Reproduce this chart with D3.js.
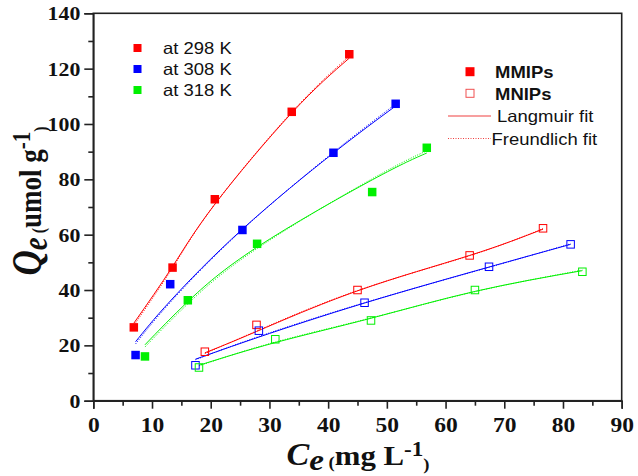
<!DOCTYPE html>
<html><head><meta charset="utf-8">
<script src="https://cdn.jsdelivr.net/npm/d3@7"></script>
<style>body{margin:0;background:#fff}svg{display:block}</style>
</head><body><svg id="c" width="638" height="476"></svg>
<script>
// ---- data ----
const tempLabels = ["at 298 K", "at 308 K", "at 318 K"];
const xTicks = [0, 10, 20, 30, 40, 50, 60, 70, 80, 90];
const yTicks = [0, 20, 40, 60, 80, 100, 120, 140];

const mmip298Ce = [6.9, 13.5, 20.7, 33.8, 43.6];
const mmip298Qe = [26.5, 48.1, 72.8, 104.4, 125.2];
const mmip308Ce = [7.2, 13.1, 25.4, 40.9, 51.5];
const mmip308Qe = [16.5, 42.1, 61.7, 89.6, 107.3];
const mmip318Ce = [8.8, 16.1, 27.9, 47.5, 56.8];
const mmip318Qe = [16.0, 36.3, 56.7, 75.4, 91.4];

const mnip298Ce = [19.0, 27.8, 45.0, 64.1, 76.6];
const mnip298Qe = [17.7, 27.4, 40.0, 52.5, 62.3];
const mnip308Ce = [17.4, 28.2, 46.2, 67.4, 81.3];
const mnip308Qe = [12.8, 25.3, 35.4, 48.4, 56.5];
const mnip318Ce = [18.0, 31.0, 47.3, 65.0, 83.3];
const mnip318Qe = [12.0, 22.2, 29.0, 40.0, 46.6];

// fitted curves, read at the same Ce values
const mmip298Lang = [28.0, 48.5, 71.0, 104.0, 123.8];
const mmip298Freu = [27.2, 48.0, 71.0, 104.3, 124.5];
const mmip308Lang = [21.3, 36.0, 62.0, 89.5, 106.5];
const mmip308Freu = [20.5, 35.5, 61.8, 89.8, 107.2];
const mmip318Lang = [20.2, 35.8, 55.5, 79.8, 89.5];
const mmip318Freu = [19.4, 35.0, 55.0, 80.2, 90.3];
const mnip298Lang = [17.3, 25.0, 39.7, 52.5, 62.0];
const mnip298Freu = [17.0, 25.2, 39.8, 52.4, 62.2];
const mnip308Lang = [15.0, 23.0, 35.3, 48.3, 56.5];
const mnip308Freu = [14.8, 23.2, 35.4, 48.2, 56.7];
const mnip318Lang = [12.8, 21.0, 29.8, 39.5, 47.0];
const mnip318Freu = [12.6, 21.2, 29.9, 39.4, 47.2];

// ---- style ----
const colors = ["#ff0000", "#0000ff", "#00f000"];
const SERIF = "'Liberation Serif','Times New Roman',serif";
const SANS = "'Liberation Sans',Arial,sans-serif";
const SX = 1.12; // horizontal stretch of the original picture

const svg = d3.select("#c");
const x = d3.scaleLinear().domain([0, 90]).range([93.3, 621.7]);
const y = d3.scaleLinear().domain([0, 140]).range([400.7, 13.3]);

const mmip = [
  {ce: mmip298Ce, qe: mmip298Qe, L: mmip298Lang, F: mmip298Freu},
  {ce: mmip308Ce, qe: mmip308Qe, L: mmip308Lang, F: mmip308Freu},
  {ce: mmip318Ce, qe: mmip318Qe, L: mmip318Lang, F: mmip318Freu}];
const mnip = [
  {ce: mnip298Ce, qe: mnip298Qe, L: mnip298Lang, F: mnip298Freu},
  {ce: mnip308Ce, qe: mnip308Qe, L: mnip308Lang, F: mnip308Freu},
  {ce: mnip318Ce, qe: mnip318Qe, L: mnip318Lang, F: mnip318Freu}];

// frame
svg.append("rect").attr("x", x(0)).attr("y", y(140))
  .attr("width", x(90) - x(0)).attr("height", y(0) - y(140))
  .attr("fill", "none").attr("stroke", "#222").attr("stroke-width", 1.6);

// axes
const xAxis = svg.append("g").attr("transform", `translate(0,${y(0)})`)
  .call(d3.axisBottom(x).tickValues(xTicks).tickSize(8).tickPadding(7).tickFormat(d3.format("d")));
svg.append("g").attr("transform", `translate(0,${y(0)})`)
  .call(d3.axisBottom(x).tickValues(d3.range(5, 90, 10)).tickSize(5).tickFormat(""))
  .call(g => g.select(".domain").remove());
const yAxis = svg.append("g").attr("transform", `translate(${x(0)},0)`)
  .call(d3.axisLeft(y).tickValues(yTicks).tickSize(9).tickPadding(4).tickFormat(d3.format("d")));
svg.append("g").attr("transform", `translate(${x(0)},0)`)
  .call(d3.axisLeft(y).tickValues(d3.range(10, 140, 20)).tickSize(5).tickFormat(""))
  .call(g => g.select(".domain").remove());
svg.selectAll(".domain").attr("stroke", "#222").attr("stroke-width", 1.6);
svg.selectAll(".tick line").attr("stroke", "#222").attr("stroke-width", 1.6);

xAxis.selectAll("text").attr("font-family", SERIF).attr("font-weight", "bold")
  .attr("font-size", 21).attr("fill", "#111")
  .attr("y", 0).attr("dy", 0)
  .attr("transform", `translate(0,31) scale(${SX},1)`);
yAxis.selectAll("text").attr("font-family", SERIF).attr("font-weight", "bold")
  .attr("font-size", 19.5).attr("fill", "#111")
  .attr("x", 0).attr("dy", "0.34em")
  .attr("transform", `translate(-13,0) scale(${SX},1)`);

// fit lines
const lineGen = d3.line().x(d => x(d[0])).y(d => y(d[1])).curve(d3.curveNatural);
function drawSet(sets) {
  sets.forEach((s, i) => {
    svg.append("path").datum(d3.zip(s.ce, s.L)).attr("d", lineGen)
      .attr("fill", "none").attr("stroke", colors[i]).attr("stroke-width", 1);
    svg.append("path").datum(d3.zip(s.ce, s.F)).attr("d", lineGen)
      .attr("fill", "none").attr("stroke", colors[i]).attr("stroke-width", 1)
      .attr("stroke-dasharray", "1,1.5");
  });
}
drawSet(mmip);
drawSet(mnip);

// markers
const MS = 8.5;
mmip.forEach((s, i) => {
  svg.append("g").selectAll("rect").data(d3.zip(s.ce, s.qe)).join("rect")
    .attr("x", d => x(d[0]) - MS / 2).attr("y", d => y(d[1]) - MS / 2)
    .attr("width", MS).attr("height", MS).attr("fill", colors[i]);
});
mnip.forEach((s, i) => {
  svg.append("g").selectAll("rect").data(d3.zip(s.ce, s.qe)).join("rect")
    .attr("x", d => x(d[0]) - MS / 2 + 0.5).attr("y", d => y(d[1]) - MS / 2 + 0.5)
    .attr("width", MS - 1).attr("height", MS - 1).attr("fill", "none")
    .attr("stroke", colors[i]).attr("stroke-width", 1);
});

// helper for stretched text
function stext(px, py, str, size, weight, anchor) {
  return svg.append("text").attr("transform", `translate(${px},${py}) scale(${SX},1)`)
    .attr("font-family", SANS).attr("font-size", size).attr("font-weight", weight || "normal")
    .attr("text-anchor", anchor || "start").attr("fill", "#111").text(str);
}

// legend 1 (temperatures)
const leg1Y = [48, 69, 90];
tempLabels.forEach((t, i) => {
  svg.append("rect").attr("x", 137.5 - 4).attr("y", leg1Y[i] - 4).attr("width", 8).attr("height", 8)
    .attr("fill", colors[i]);
  stext(163, leg1Y[i] + 6, t, 16.5);
});

// legend 2 (materials & fits)
svg.append("rect").attr("x", 470 - 4.5).attr("y", 71.7 - 4.5).attr("width", 9).attr("height", 9)
  .attr("fill", colors[0]);
svg.append("rect").attr("x", 470 - 4).attr("y", 93.3 - 4).attr("width", 8).attr("height", 8)
  .attr("fill", "none").attr("stroke", "#f05050").attr("stroke-width", 1);
stext(495, 78, "MMIPs", 16.5, "bold");
stext(495, 100, "MNIPs", 16.5, "bold");
svg.append("line").attr("x1", 448).attr("x2", 491).attr("y1", 116).attr("y2", 116)
  .attr("stroke", "#f04040").attr("stroke-width", 1.2);
stext(497, 122, "Langmuir fit", 16.5);
svg.append("line").attr("x1", 448).attr("x2", 491).attr("y1", 138.5).attr("y2", 138.5)
  .attr("stroke", "#f04040").attr("stroke-width", 1).attr("stroke-dasharray", "1,1.5");
stext(491.5, 144.5, "Freundlich fit", 16.5);

// x axis title
const xt = svg.append("text").attr("transform", `translate(358,465) scale(1.1,1)`)
  .attr("text-anchor", "middle").attr("font-family", SERIF).attr("font-weight", "bold").attr("fill", "#111");
xt.append("tspan").attr("font-style", "italic").attr("font-size", 31).text("C");
xt.append("tspan").attr("font-style", "italic").attr("font-size", 30).attr("dy", 5).text("e");
xt.append("tspan").attr("font-size", 17).attr("dy", -2).text(" (");
xt.append("tspan").attr("font-size", 28).attr("dy", -3).text("mg L");
xt.append("tspan").attr("font-size", 21).attr("dy", -9).text("-1");
xt.append("tspan").attr("font-size", 17).attr("dy", 14).text(")");

// y axis title
const yt = svg.append("text").attr("transform", `translate(41,201) scale(1.2,1) rotate(-90)`)
  .attr("text-anchor", "middle").attr("font-family", SERIF).attr("font-weight", "bold").attr("fill", "#111");
yt.append("tspan").attr("font-style", "italic").attr("font-size", 35).text("Q");
yt.append("tspan").attr("font-style", "italic").attr("font-size", 29).attr("dy", 5).text("e");
yt.append("tspan").attr("font-size", 16).attr("dy", -2).text(" (");
yt.append("tspan").attr("font-size", 27).attr("dy", -3).text("umol g");
yt.append("tspan").attr("font-size", 21).attr("dy", -9).text("-1");
yt.append("tspan").attr("font-size", 16).attr("dy", 14).text(")");
</script></body></html>
